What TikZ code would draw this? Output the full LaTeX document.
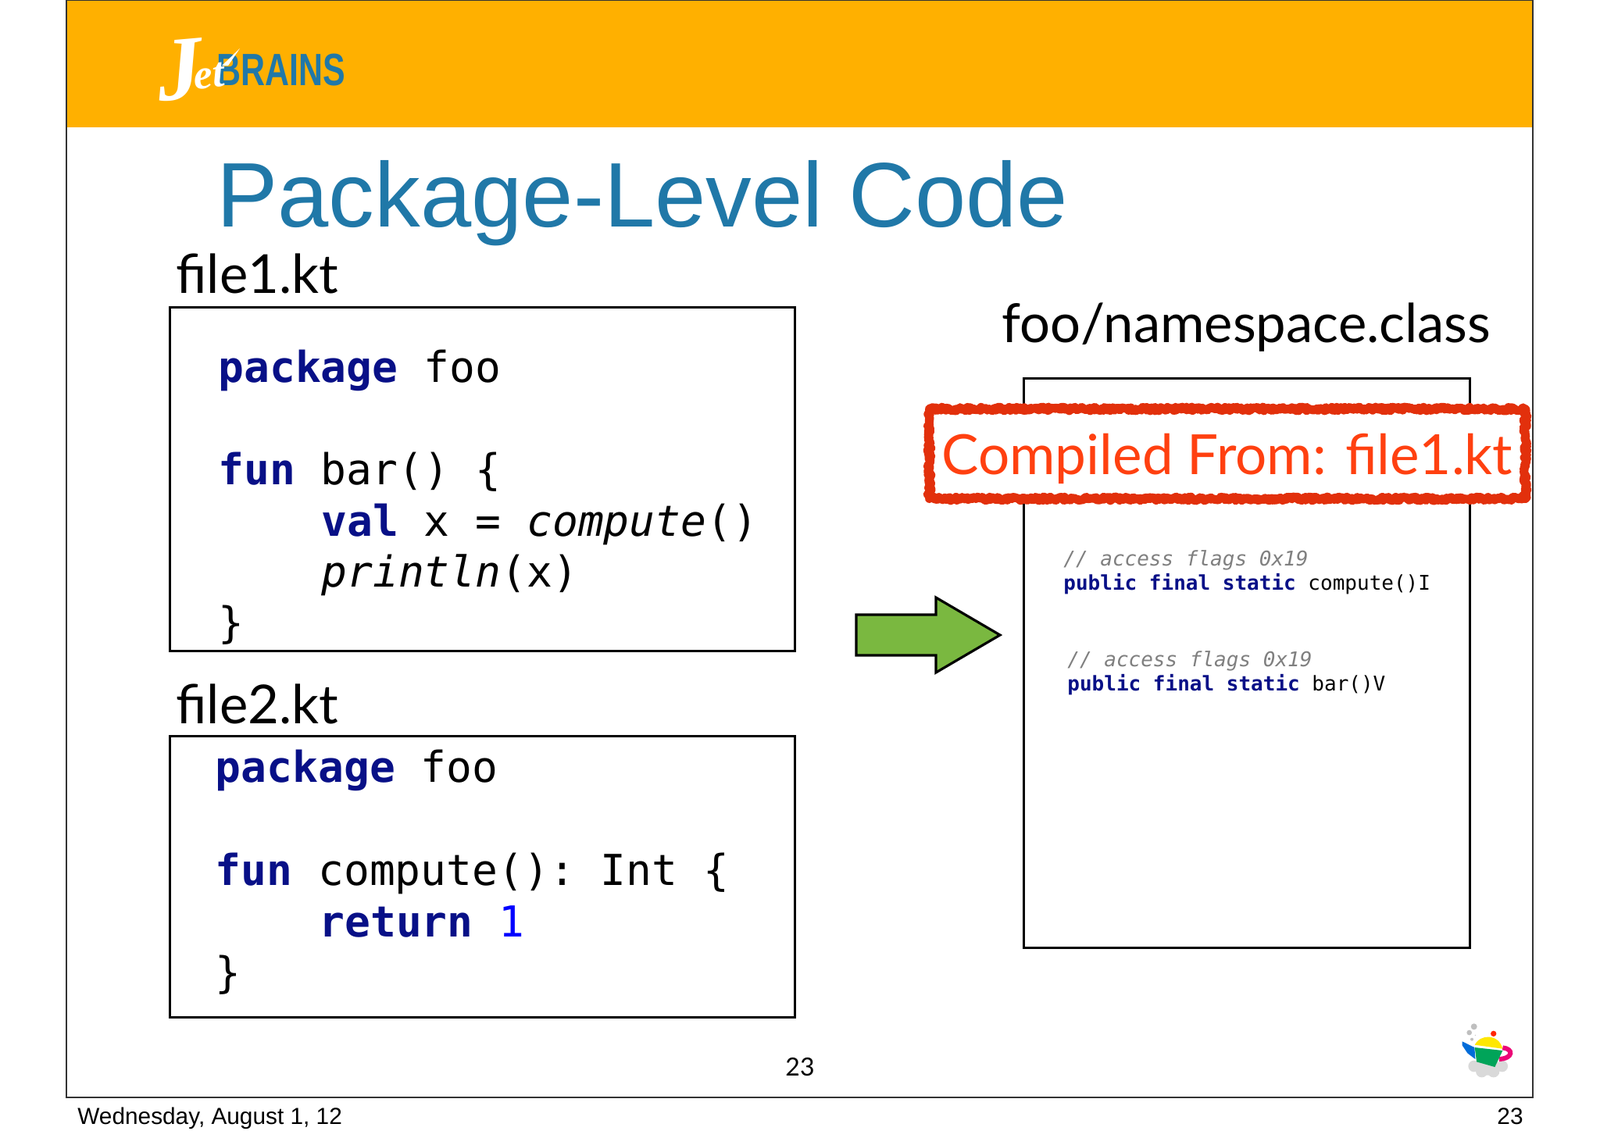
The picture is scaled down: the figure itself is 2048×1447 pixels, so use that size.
\documentclass[tikz,border=0pt]{standalone}
\usepackage{fontspec}
\setmainfont{Lato}
\setsansfont{Liberation Sans}
\setmonofont{DejaVu Sans Mono}
\newfontfamily\logofont{Liberation Serif}
\usetikzlibrary{positioning,decorations.pathmorphing}
\definecolor{jetorange}{RGB}{255,176,0}
\definecolor{jetblue}{RGB}{32,120,168}
\definecolor{keyword}{RGB}{8,16,135}
\definecolor{redline}{RGB}{226,48,12}
\definecolor{redtext}{RGB}{255,64,16}
\definecolor{arrowgreen}{RGB}{122,184,64}
\newcommand{\kw}[1]{\textcolor{keyword}{\textbf{#1}}}
\begin{document}
\begin{tikzpicture}[x=.5pt,y=-.5pt,
  slidetext/.style={inner sep=0pt,anchor=base west},
  title/.style={slidetext,text=jetblue,font=\sffamily\fontsize{58.7}{66}\selectfont},
  filename/.style={slidetext,font=\fontsize{34.4}{40}\selectfont},
  code/.style={slidetext,font=\ttfamily\fontsize{27.3}{30}\selectfont},
  bytecode/.style={slidetext,font=\ttfamily\fontsize{13}{16}\selectfont},
  comment/.style={bytecode,text=black!50,font=\ttfamily\itshape\fontsize{13}{16}\selectfont},
  footer/.style={slidetext,font=\sffamily\fontsize{14.9}{18}\selectfont},
  codebox/.style={draw,line width=1.6pt,fill=white,inner sep=0pt,anchor=north west}]

\useasboundingbox (0,0) rectangle (2048,1447);

% slide
\fill[jetorange] (85,0) rectangle (1962,163);
\draw[black!80,line width=.7pt] (85,0) rectangle (1962,1405);
\node[slidetext,text=jetblue,font=\sffamily\bfseries\fontsize{29}{34}\selectfont,
      xscale=.74,transform shape] (brains) at (277,109) {BRAINS};
\node[slidetext,text=white,font=\logofont\itshape\bfseries\fontsize{58}{60}\selectfont,
      rotate=5,transform shape] (jet) at (204,130) {J\kern-6pt\raisebox{6pt}{\fontsize{27}{28}\selectfont et}};
\fill[white] (284,84) -- (307,62) -- (292,84) -- cycle;
\node[title] (heading) at (277,290) {Package-Level Code};

% first source file
\node[filename] (file1) at (225,375) {file1.kt};
\node[codebox,minimum width=400pt,minimum height=220pt] (file1box) at (216,392) {};
\node[code] (p1) at (279,489) {\kw{package} foo};
\node[code] (f1) at (279,620) {\kw{fun} bar() \{};
\node[code] (v1) at (411,686) {\kw{val} x = \textit{compute}()};
\node[code] (r1) at (411,751) {\textit{println}(x)};
\node[code] (c1) at (279,816) {\}};

% second source file
\node[filename] (file2) at (225,926) {file2.kt};
\node[codebox,minimum width=400pt,minimum height=180pt] (file2box) at (216,941) {};
\node[code] (p2) at (275.5,1001.5) {\kw{package} foo};
\node[code] (f2) at (275.5,1133) {\kw{fun} compute(): Int \{};
\node[code] (v2) at (408,1199) {\kw{return} \textcolor{blue}{1}};
\node[code] (c2) at (275.5,1264) {\}};

% arrow
\draw[fill=arrowgreen,line width=1.6pt] (1096,787) -- (1198,787) -- (1198,765) -- (1280,813)
  -- (1198,861) -- (1198,839) -- (1096,839) -- cycle;

% class file
\node[filename] (classname) at (1282,438) {foo/namespace.class};
\node[codebox,minimum width=285.5pt,minimum height=364.5pt] (classbox) at (1308.5,483) {};
\node[draw=redline,line width=5.5pt,line join=round,fill=white,inner sep=0pt,minimum width=381.5pt,minimum height=57.5pt,
      decorate,decoration={random steps,segment length=.8pt,amplitude=1.2pt}] (compiled) at (1571,581) {};
\node[filename,text=redtext,font=\fontsize{35.5}{40}\selectfont] (compiledtext) at (1205,607) {Compiled From: file1.kt};
\node[comment] (a1) at (1361,724) {// access flags 0x19};
\node[bytecode] (m1) at (1361,755) {\kw{public} \kw{final} \kw{static} compute()I};
\node[comment] (a2) at (1366,853) {// access flags 0x19};
\node[bytecode] (m2) at (1366,884) {\kw{public} \kw{final} \kw{static} bar()V};

% page numbers
\node[slidetext,anchor=base,font=\fontsize{16}{20}\selectfont] (page) at (1024,1377) {23};
\node[footer] (date) at (99,1439) {Wednesday, August 1, 12};
\node[footer,anchor=base east] (number) at (1950,1439) {23};

% teapot
\begin{scope}[shift={(1780,1280)},x=.1667pt,y=-.1667pt]
  \foreach \cx/\cy/\cr in {320/255/22,350/275/23,395/275/23,428/255/22,372/250/40}
    \fill[black!15] (\cx,\cy) circle[radius=\cr];
  \fill[black!25] (320,103) circle[radius=12] (302,126) circle[radius=10]
    (312,152) circle[radius=6] (325,136) circle[radius=2];
  \draw[draw=magenta!80!red,line width=3pt] (430,184) .. controls (472,188) and (472,225) .. (416,228);
  \fill[blue!50!cyan!85!black] (275,160) -- (322,183) -- (325,228) -- (295,205) -- (275,175) -- cycle;
  \fill[green!45!black!65!cyan] (323,183) -- (430,195) -- (400,258) -- (330,238) -- cycle;
  \fill[yellow!90!orange] (323,173) .. controls (345,130) and (415,130) .. (430,188) -- cycle;
  \fill[red!70!orange] (395,130) circle[radius=11];
\end{scope}

\end{tikzpicture}
\end{document}
